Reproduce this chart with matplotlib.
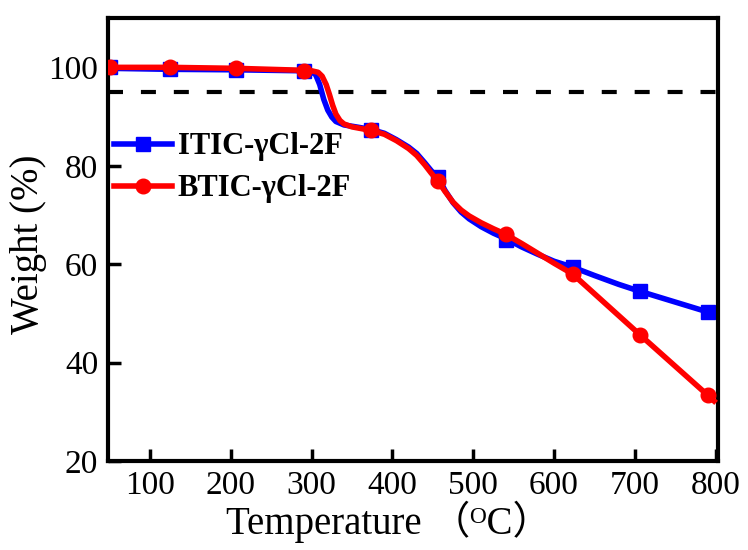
import matplotlib
matplotlib.use("Agg")
import matplotlib.pyplot as plt

# ---- data ----
itic_T = [50, 125, 207, 290, 300, 305, 310, 315, 320, 325, 330, 340, 355, 373, 390, 405,
          420, 430, 440, 450, 457, 465, 475, 485, 495, 510, 525, 540, 560, 580, 600, 623,
          650, 680, 706, 750, 790, 798]
itic_W = [99.8, 99.6, 99.5, 99.3, 99.1, 98.5, 96.5, 93.5, 91.3, 89.9, 89.0, 88.3, 87.9, 87.4,
          86.6, 85.3, 83.8, 82.5, 80.6, 78.6, 77.6, 75.0, 72.5, 70.6, 69.2, 67.6, 66.3, 65.2,
          63.5, 62.0, 60.6, 59.4, 57.7, 55.9, 54.5, 52.3, 50.3, 50.0]
btic_T = [50, 125, 207, 290, 300, 308, 313, 318, 322, 326, 330, 335, 340, 350, 373, 390, 405,
          420, 430, 440, 448, 456, 465, 475, 485, 495, 510, 525, 540, 560, 580, 600, 623,
          706, 790, 798]
btic_W = [100.0, 100.0, 99.8, 99.4, 99.3, 99.0, 98.2, 96.5, 94.5, 92.3, 90.5, 89.2, 88.5, 87.9,
          87.2, 86.4, 85.1, 83.5, 82.1, 80.2, 78.5, 77.0, 74.8, 72.6, 71.0, 69.8, 68.4, 67.2,
          66.1, 64.2, 62.2, 60.2, 58.0, 45.7, 33.4, 32.2]

marker_T = [50, 125, 207, 290, 373, 456, 540, 623, 706, 790]
itic_marker_W = [100.0, 99.6, 99.5, 99.3, 87.3, 77.8, 65.0, 59.5, 54.5, 50.2]
btic_marker_W = [100.0, 100.0, 99.8, 99.3, 87.2, 77.0, 66.1, 58.0, 45.7, 33.4]

threshold = 95
labels = ["ITIC-γCl-2F", "BTIC-γCl-2F"]
x_ticks = [100, 200, 300, 400, 500, 600, 700, 800]
y_ticks = [20, 40, 60, 80, 100]

serif = ["Liberation Serif", "Noto Sans CJK SC", "DejaVu Serif"]
plt.rcParams['font.family'] = serif

fig = plt.figure(figsize=(7.48, 5.5), dpi=100)
ax = fig.add_axes([0.1444, 0.1618, 0.8156, 0.8052])

ax.axhline(threshold, color="black", lw=3, ls=(0, (3.6, 4.3)), zorder=1)

ax.plot(itic_T, itic_W, color="#0000ff", lw=4, zorder=2)
ax.plot(btic_T, btic_W, color="#ff0000", lw=4, zorder=3)
ax.plot(marker_T, itic_marker_W, ls="none", marker="s", ms=10, color="#0000ff", zorder=2)
ax.plot(marker_T, btic_marker_W, ls="none", marker="o", ms=10.5, color="#ff0000", zorder=3)

# legend proxies
h1, = ax.plot([], [], color="#0000ff", lw=4, marker="s", ms=10)
h2, = ax.plot([], [], color="#ff0000", lw=4, marker="o", ms=10.5)
leg = ax.legend([h1, h2], labels, loc="upper left", bbox_to_anchor=(0.009, 0.742),
                frameon=False, borderaxespad=0, borderpad=0, handlelength=1.9,
                handletextpad=0.2, labelspacing=0.42,
                prop={"family": serif, "weight": "bold", "size": 22})

ax.set_xlim(48, 803)
ax.set_ylim(20, 110)
ax.set_xticks(x_ticks)
ax.set_yticks(y_ticks)
ax.tick_params(direction="in", length=9, width=2.5, labelsize=24, pad=7)
for lab in ax.get_xticklabels() + ax.get_yticklabels():
    lab.set_family(serif)
for s in ax.spines.values():
    s.set_linewidth(3)

ax.set_xlabel("Temperature （ᴼC）", fontsize=28)
ax.xaxis.set_label_coords(0.46, -0.09)
ax.set_ylabel("Weight (%)", fontsize=28)
ax.yaxis.set_label_coords(-0.1, 0.49)

fig.savefig("out.png", dpi=100)
